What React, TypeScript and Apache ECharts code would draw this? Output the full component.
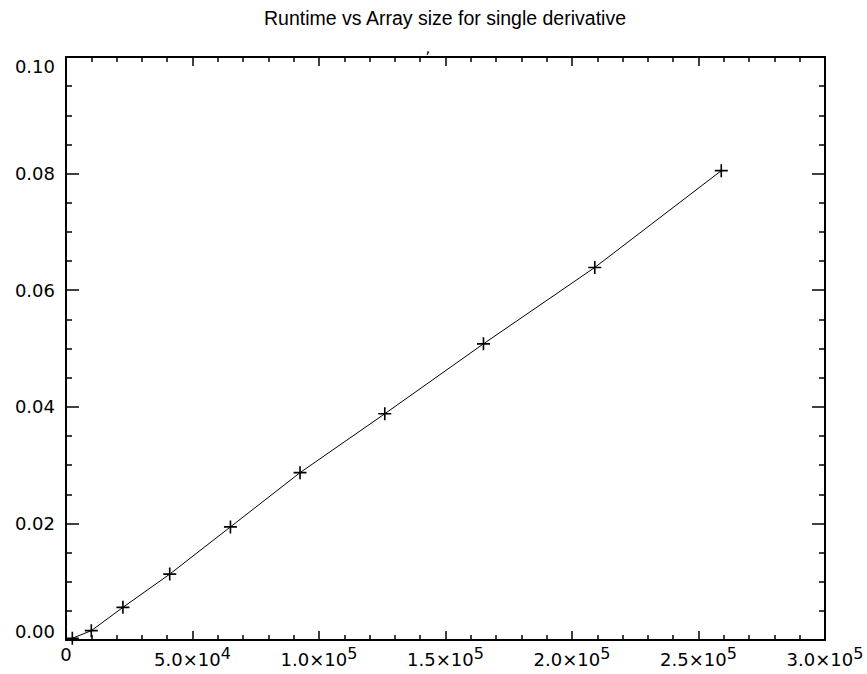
import React, { useEffect, useRef } from "react";
import * as echarts from "echarts";

const arraySizes = [2500, 10000, 22500, 41000, 65000, 92500, 126000, 165000, 209000, 259000];
const runtimes = [0.0003, 0.0016, 0.0056, 0.0113, 0.0194, 0.0287, 0.0388, 0.0508, 0.0639, 0.0805];
const xTickMax = 300000;
const xTickStep = 50000;
const yTickMax = 0.1;
const yTickStep = 0.02;
const titleText = "Runtime vs Array size for single derivative";

const FONT = "DejaVu Sans";

function xLabel(v: number): string {
  if (v === 0) return "{m|0}";
  const e = Math.floor(Math.log10(v) + 1e-9);
  const m = v / Math.pow(10, e);
  return `{m|${m.toFixed(1)}×10}{s|${e}}`;
}

export default function App() {
  const ref = useRef<HTMLDivElement>(null);
  useEffect(() => {
    if (!ref.current) return;
    const chart = echarts.init(ref.current, undefined, { renderer: "svg" });
    const axisLine = { show: true, onZero: false, lineStyle: { color: "#000", width: 2 } };
    const xCommon = {
      type: "value" as const,
      min: 0,
      max: xTickMax,
      interval: xTickStep,
      axisLine,
      axisTick: { show: true, inside: true, length: 9, lineStyle: { color: "#000", width: 1.5 } },
      minorTick: { show: true, splitNumber: 5, length: 5, lineStyle: { color: "#000", width: 1.5 } },
      splitLine: { show: false },
      minorSplitLine: { show: false },
    };
    const yCommon = {
      type: "value" as const,
      min: 0,
      max: yTickMax,
      interval: yTickStep,
      axisLine,
      axisTick: { show: true, inside: true, length: 13, lineStyle: { color: "#000", width: 1.5 } },
      minorTick: { show: true, splitNumber: 4, length: 6, lineStyle: { color: "#000", width: 1.5 } },
      splitLine: { show: false },
      minorSplitLine: { show: false },
    };
    chart.setOption({
      animation: false,
      backgroundColor: "#fff",
      grid: { left: 66, right: 42, top: 57, bottom: 34, containLabel: false },
      graphic: [
        {
          type: "text",
          x: 445,
          y: 18,
          style: {
            text: titleText,
            fontFamily: "Liberation Sans",
            fontSize: 19.5,
            fill: "#000",
            textAlign: "center",
            textVerticalAlign: "middle",
          },
        },
        {
          type: "text",
          x: 428,
          y: 40,
          style: { text: ",", fontFamily: FONT, fontSize: 15, fill: "#000", textAlign: "center" },
        },
      ],
      xAxis: [
        {
          ...xCommon,
          position: "bottom",
          axisLabel: {
            show: true,
            margin: 5,
            color: "#000",
            fontFamily: FONT,
            formatter: (v: number) => xLabel(v),
            rich: {
              m: { fontSize: 18, fontFamily: FONT, color: "#000" },
              s: { fontSize: 16, fontFamily: FONT, color: "#000", padding: [0, 0, 13, 0] },
            },
          },
        },
        { ...xCommon, position: "top", axisLabel: { show: false } },
      ],
      yAxis: [
        {
          ...yCommon,
          position: "left",
          axisLabel: {
            show: true,
            margin: 11,
            color: "#000",
            fontFamily: FONT,
            fontSize: 18,
            formatter: (v: number) => v.toFixed(2),
            verticalAlignMinLabel: "bottom",
            verticalAlignMaxLabel: "top",
          },
        },
        { ...yCommon, position: "right", axisLabel: { show: false } },
      ],
      series: [
        {
          type: "line",
          xAxisIndex: 0,
          yAxisIndex: 0,
          data: arraySizes.map((x, i) => [x, runtimes[i]]),
          lineStyle: { color: "#000", width: 1 },
          symbol: "path://M0,10.5H24V13.5H0Z M10.5,0H13.5V24H10.5Z",
          symbolSize: 13,
          itemStyle: { color: "#000" },
          showSymbol: true,
          clip: false,
        },
      ],
    });
    return () => chart.dispose();
  }, []);
  return (
    <div
      ref={ref}
      style={{ position: "fixed", left: 0, top: 0, width: 867, height: 674, background: "#fff" }}
    />
  );
}
